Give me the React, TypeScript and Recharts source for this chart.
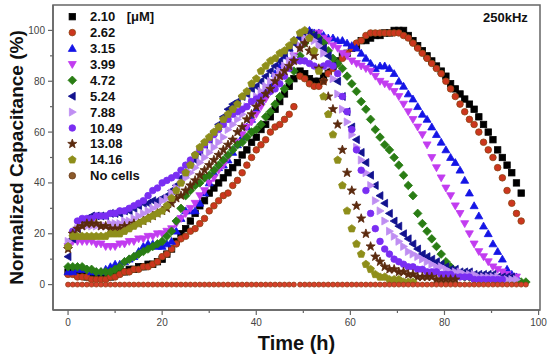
import React from 'react';
import {
  ScatterChart,
  Scatter,
  XAxis,
  YAxis,
  Legend,
  ReferenceArea,
} from 'recharts';

// time points (h): two recording runs
const TIME = [
  0, 1, 2, 3, 4, 5, 6, 7, 8, 9, 10, 11, 12, 13, 14, 15, 16, 17, 18, 19, 20,
  21, 22, 23, 24, 25, 26, 27, 28, 29, 30, 31, 32, 33, 34, 35, 36, 37, 38, 39,
  40, 41, 42, 43, 44, 45, 46, 47, 48,
  49.3, 50.3, 51.3, 52.3, 53.3, 54.3, 55.3, 56.3, 57.3, 58.3, 59.3, 60.3,
  61.3, 62.3, 63.3, 64.3, 65.3, 66.3, 67.3, 68.3, 69.3, 70.3, 71.3, 72.3,
  73.3, 74.3, 75.3, 76.3, 77.3, 78.3, 79.3, 80.3, 81.3, 82.3, 83.3, 84.3,
  85.3, 86.3, 87.3, 88.3, 89.3, 90.3, 91.3, 92.3, 93.3, 94.3, 95.3, 96.3,
  97.3,
];

// normalized capacitance (%) per concentration
const C_210 = [
  5, 5, 4, 4, 3, 3, 3, 3, 3, 3, 4, 5, 5, 6, 6, 7, 7, 8, 8, 9, 10, 12, 14, 17,
  20, 22, 25, 28, 31, 33, 36, 38, 40, 42, 44, 46, 48, 51, 53, 56, 58, 61, 63,
  66, 69, 72, 75, 78, 81,
  84, 83, 81, 80, 80, 82, 84, 86, 88, 90, 91, 93, 94, 96, 96, 97, 98, 98, 99,
  99, 100, 100, 100, 98, 96, 94, 92, 90, 88, 86, 84, 82, 79, 77, 75, 73, 71,
  69, 66, 63, 60, 57, 53, 50, 47, 44, 40, 36,
];
const C_262 = [
  4, 4, 3, 3, 3, 2, 2, 2, 2, 3, 3, 4, 5, 5, 6, 6, 7, 7, 8, 9, 11, 12, 14, 16,
  18, 19, 21, 22, 24, 26, 29, 31, 33, 35, 36, 39, 41, 44, 47, 50, 53, 55, 57,
  60, 62, 63, 65, 67, 70,
  82, 81, 79, 78, 78, 80, 83, 85, 87, 89, 91, 93, 95, 96, 98, 99, 99, 99, 99,
  99, 99, 99, 98, 97, 95, 93, 91, 89, 87, 85, 83, 80, 77, 74, 71, 68, 65, 63,
  60, 56, 53, 50, 46, 42, 37, 32, 28, 25,
];
const C_315 = [
  5, 5, 6, 6, 6, 5, 5, 5, 6, 7, 8, 8, 9, 10, 11, 13, 15, 16, 16, 15, 15, 16,
  17, 21, 26, 29, 29, 29, 32, 36, 40, 44, 46, 47, 49, 52, 55, 58, 62, 65, 69,
  72, 76, 79, 83, 86, 90, 93, 96,
  98, 99, 100, 99, 99, 98, 97, 97, 96, 96, 95, 94, 93, 91, 89, 87, 85, 86,
  86, 85, 83, 80, 78, 75, 73, 70, 67, 65, 62, 59, 56, 53, 50, 48, 45, 41, 36,
  31, 27, 23, 20, 16, 13, 10, 6, 4, 3,
];
const C_399 = [
  15, 17, 17, 17, 17, 17, 16, 16, 15, 15, 15, 16, 16, 17, 17, 18, 18, 19, 19,
  20, 20, 21, 22, 24, 26, 28, 30, 32, 35, 37, 40, 42, 45, 47, 50, 53, 56, 59,
  62, 64, 67, 70, 73, 76, 79, 82, 85, 88, 90,
  93, 95, 97, 98, 99, 97, 96, 94, 93, 91, 90, 88, 87, 86, 85, 84, 82, 80, 79,
  78, 76, 74, 71, 68, 65, 62, 59, 55, 50, 46, 42, 38, 35, 31, 28, 24, 20, 16,
  13, 11, 9, 7, 6, 5, 4, 3, 3,
];
const C_472 = [
  7, 7, 7, 7, 6, 6, 5, 5, 5, 5, 6, 7, 9, 10, 11, 12, 13, 14, 15, 16, 17, 19,
  21, 25, 30, 35, 37, 39, 40, 42, 43, 45, 47, 49, 51, 53, 55, 56, 58, 60, 61,
  63, 66, 68, 71, 74, 77, 80, 84,
  90, 95, 98, 98, 97, 95, 92, 89, 87, 85, 82, 79, 76, 72, 69, 65, 61, 58, 55,
  53, 50, 47, 43, 39, 35, 28, 24, 21, 18, 15, 12, 9, 7, 5, 4, 3, 3, 2, 2, 2,
  2, 2, 1, 1, 1, 1, 1, 1, 1,
];
const C_524 = [
  11, 18, 22, 25, 26, 27, 27, 27, 27, 28, 28, 28, 29, 29, 30, 31, 32, 32, 33,
  33, 34, 35, 37, 39, 42, 44, 47, 49, 52, 55, 57, 60, 63, 66, 69, 71, 72, 74,
  75, 77, 78, 80, 82, 84, 86, 88, 90, 93, 95,
  97, 99, 99, 98, 96, 93, 90, 86, 80, 74, 68, 62, 57, 52, 48, 43, 39, 35, 32,
  28, 25, 23, 20, 18, 16, 14, 12, 11, 10, 9, 8, 7, 6, 6, 5, 5, 5, 4, 4, 4, 4,
  4, 3, 3, 3, 3,
];
const C_788 = [
  17, 20, 22, 23, 23, 23, 23, 23, 23, 24, 24, 24, 25, 25, 26, 27, 28, 29, 30,
  31, 33, 34, 36, 38, 40, 42, 44, 46, 48, 50, 52, 54, 56, 58, 61, 63, 65, 67,
  70, 72, 74, 76, 78, 80, 82, 84, 86, 88, 90,
  94, 97, 97, 96, 94, 91, 86, 81, 75, 69, 64, 59, 54, 49, 44, 39, 33, 29, 25,
  21, 19, 17, 15, 13, 12, 11, 10, 9, 8, 7, 7, 6, 5, 5, 5, 4, 4, 4, 3, 3, 3, 3,
  3, 2, 2, 2, 2,
];
const C_1049 = [
  15, 21, 25, 26, 26, 26, 27, 27, 27, 28, 28, 29, 29, 30, 31, 32, 33, 35, 37,
  38, 40, 41, 42, 43, 45, 47, 49, 51, 53, 55, 57, 59, 61, 63, 65, 67, 68, 69,
  70, 72, 73, 74, 75, 76, 77, 79, 82, 85, 88,
  88, 88, 87, 86, 85, 86, 87, 86, 83, 74, 68, 61, 53, 45, 37, 28, 22, 17, 14,
  12, 10, 9, 8, 7, 7, 6, 6, 5, 5, 5, 4, 4, 4, 3, 3, 3, 3, 2, 2, 2, 2, 2, 2, 2,
];
const C_1308 = [
  14, 20, 22, 23, 24, 24, 24, 23, 23, 22, 22, 22, 23, 23, 24, 24, 25, 26, 27,
  28, 29, 30, 32, 34, 35, 37, 39, 41, 43, 45, 47, 49, 51, 53, 55, 57, 60, 62,
  65, 67, 70, 72, 75, 77, 80, 82, 84, 86, 88,
  93, 95, 92, 90, 85, 80, 74, 69, 63, 53, 44, 37, 31, 26, 20, 15, 11, 9, 7, 6,
  6, 5, 5, 4, 4, 3, 3, 3, 3, 2, 2, 2, 2, 2,
];
const C_1416 = [
  15, 19, 19, 19, 19, 19, 19, 19, 19, 20, 20, 20, 21, 22, 23, 24, 25, 26, 27,
  28, 29, 31, 34, 37, 40, 44, 47, 51, 54, 56, 58, 60, 62, 65, 67, 69, 71, 74,
  76, 79, 81, 84, 86, 88, 89, 91, 92, 94, 96,
  99, 100, 97, 92, 84, 74, 67, 59, 49, 39, 29, 22, 16, 12, 8, 6, 4, 3, 3, 2, 2,
  2, 1, 1, 1,
];
const NO_CELLS = [
  0, 0, 0, 0, 0, 0, 0, 0, 0, 0, 0, 0, 0, 0, 0, 0, 0, 0, 0, 0, 0, 0, 0, 0, 0,
  0, 0, 0, 0, 0, 0, 0, 0, 0, 0, 0, 0, 0, 0, 0, 0, 0, 0, 0, 0, 0, 0, 0, 0,
  0, 0, 0, 0, 0, 0, 0, 0, 0, 0, 0, 0, 0, 0, 0, 0, 0, 0, 0, 0, 0, 0, 0, 0, 0,
  0, 0, 0, 0, 0, 0, 0, 0, 0, 0, 0, 0, 0, 0, 0, 0, 0, 0, 0, 0, 0, 0, 0, 0,
];

const SERIES_NAMES = [
  '2.10', '2.62', '3.15', '3.99', '4.72', '5.24', '7.88', '10.49', '13.08',
  '14.16', 'No cells',
];
const SERIES_VALUES = [
  C_210, C_262, C_315, C_399, C_472, C_524, C_788, C_1049, C_1308, C_1416,
  NO_CELLS,
];

const X_TICKS = [0, 10, 20, 30, 40, 50, 60, 70, 80, 90, 100];
const Y_TICKS = [0, 10, 20, 30, 40, 50, 60, 70, 80, 90, 100];

const STYLES: { [key: string]: { shape: string; fill: string; stroke: string } } = {
  '2.10': { shape: 'square', fill: '#000000', stroke: '#000000' },
  '2.62': { shape: 'circle', fill: '#cc361e', stroke: '#8b4513' },
  '3.15': { shape: 'up', fill: '#1414e6', stroke: '#1414e6' },
  '3.99': { shape: 'down', fill: '#c23cf0', stroke: '#c23cf0' },
  '4.72': { shape: 'diamond', fill: '#2a7d14', stroke: '#2a7d14' },
  '5.24': { shape: 'left', fill: '#12128e', stroke: '#12128e' },
  '7.88': { shape: 'right', fill: '#bf8ef2', stroke: '#bf8ef2' },
  '10.49': { shape: 'circle', fill: '#7a2ef2', stroke: '#7a2ef2' },
  '13.08': { shape: 'star', fill: '#5a2a0e', stroke: '#5a2a0e' },
  '14.16': { shape: 'pentagon', fill: '#8e8e1a', stroke: '#8e8e1a' },
  'No cells': { shape: 'small', fill: '#d8402a', stroke: '#94401c' },
};

const FONT = 'Arial, "Liberation Sans", Helvetica, sans-serif';
const AXIS = '#666';

const ngon = (cx: number, cy: number, r: number, n: number, rot: number) =>
  Array.from({ length: n }, (_, i) => {
    const a = rot + (i * 2 * Math.PI) / n;
    return `${cx + r * Math.cos(a)},${cy + r * Math.sin(a)}`;
  }).join(' ');

const starPoints = (cx: number, cy: number, ro: number, ri: number) =>
  Array.from({ length: 10 }, (_, i) => {
    const a = -Math.PI / 2 + (i * Math.PI) / 5;
    const r = i % 2 === 0 ? ro : ri;
    return `${cx + r * Math.cos(a)},${cy + r * Math.sin(a)}`;
  }).join(' ');

function Marker({ name, cx, cy, legend }: any) {
  if (cx == null || cy == null) return null;
  const s = STYLES[name];
  const common = { fill: s.fill, stroke: s.stroke, strokeWidth: 0.8 };
  switch (s.shape) {
    case 'square':
      return <rect x={cx - 3.2} y={cy - 3.2} width={6.4} height={6.4} {...common} />;
    case 'circle':
      return <circle cx={cx} cy={cy} r={3.3} {...common} />;
    case 'small':
      // legend shows the bigger brown bead
      return legend ? (
        <circle cx={cx} cy={cy} r={3.3} fill="#8b5a2b" stroke="#6b3a16" strokeWidth={0.8} />
      ) : (
        <circle cx={cx} cy={cy} r={2.5} {...common} />
      );
    case 'up':
      return <polygon points={ngon(cx, cy + 0.6, 4.6, 3, -Math.PI / 2)} {...common} />;
    case 'down':
      return <polygon points={ngon(cx, cy - 0.6, 4.6, 3, Math.PI / 2)} {...common} />;
    case 'left':
      return <polygon points={ngon(cx + 0.6, cy, 4.6, 3, Math.PI)} {...common} />;
    case 'right':
      return <polygon points={ngon(cx - 0.6, cy, 4.6, 3, 0)} {...common} />;
    case 'diamond':
      return <polygon points={ngon(cx, cy, 4.3, 4, -Math.PI / 2)} {...common} />;
    case 'pentagon':
      return <polygon points={ngon(cx, cy, 4, 5, -Math.PI / 2)} {...common} />;
    case 'star':
      return <polygon points={starPoints(cx, cy, 4.8, 2)} {...common} />;
    default:
      return null;
  }
}

const XTick = ({ x, y, payload }: any) => {
  const major = payload.value % 20 === 0;
  return (
    <g>
      <line x1={x} x2={x} y1={y} y2={y + (major ? 5 : 3)} stroke={AXIS} strokeWidth={1.2} />
      {major && (
        <text x={x} y={y + 12.7} textAnchor="middle" dominantBaseline="central"
          fontSize={10} fontFamily={FONT} fill="#444">
          {payload.value}
        </text>
      )}
    </g>
  );
};

const YTick = ({ x, y, payload }: any) => {
  const major = payload.value % 20 === 0;
  return (
    <g>
      <line x1={x} x2={x - (major ? 5 : 3)} y1={y} y2={y} stroke={AXIS} strokeWidth={1.2} />
      {major && (
        <text x={x - 8} y={y} textAnchor="end" dominantBaseline="central"
          fontSize={10} fontFamily={FONT} fill="#444">
          {payload.value}
        </text>
      )}
    </g>
  );
};

const renderLegend = () => (
  <svg width={130} height={180}>
    {SERIES_NAMES.map((name, i) => {
      const cy = 8.7 + i * 15.9;
      return (
        <g key={name}>
          <Marker name={name} cx={10.3} cy={cy} legend />
          <text x={28} y={cy} dominantBaseline="central" fontSize={13}
            fontWeight="bold" fontFamily={FONT} fill="#111">
            {name}
          </text>
          {i === 0 && (
            <text x={64.7} y={cy} dominantBaseline="central" fontSize={13}
              fontWeight="bold" fontFamily={FONT} fill="#111">
              [μM]
            </text>
          )}
        </g>
      );
    })}
  </svg>
);

export default function App() {
  const seriesData = SERIES_NAMES.map((name, s) => ({
    name,
    data: TIME.map((t, i) => ({ t, v: SERIES_VALUES[s][i] })).filter(
      (d) => d.v != null
    ),
  }));

  return (
    <div style={{ position: 'absolute', left: 0, top: 0, width: 550, height: 359, background: '#fff' }}>
      <ScatterChart width={550} height={359} margin={{ top: 5, right: 10, bottom: 0, left: 8 }}>
        <XAxis
          dataKey="t"
          type="number"
          domain={[-3.2, 100.3]}
          ticks={X_TICKS}
          interval={0}
          allowDataOverflow
          tickSize={0}
          tickMargin={0}
          tickLine={false}
          tick={<XTick />}
          axisLine={{ stroke: AXIS, strokeWidth: 1.5 }}
          height={49}
          label={{
            content: (props: any) => {
              const vb = props.viewBox || { x: 53, y: 310, width: 487 };
              return (
                <text x={vb.x + vb.width / 2} y={vb.y + 33} textAnchor="middle"
                  dominantBaseline="central" fontSize={20} fontWeight="bold"
                  fontFamily={FONT} fill="#111">
                  Time (h)
                </text>
              );
            },
          }}
        />
        <YAxis
          dataKey="v"
          type="number"
          domain={[-10, 110]}
          ticks={Y_TICKS}
          interval={0}
          allowDataOverflow
          tickSize={0}
          tickMargin={0}
          tickLine={false}
          tick={<YTick />}
          axisLine={{ stroke: AXIS, strokeWidth: 1.5 }}
          width={45}
          label={{
            content: (props: any) => {
              const vb = props.viewBox || { x: 8, y: 5, height: 305 };
              const cx = vb.x + 8;
              const cy = vb.y + vb.height / 2;
              return (
                <text x={cx} y={cy} transform={`rotate(-90 ${cx} ${cy})`}
                  textAnchor="middle" dominantBaseline="central" fontSize={19}
                  fontWeight="bold" fontFamily={FONT} fill="#111">
                  Normalized Capacitance (%)
                </text>
              );
            },
          }}
        />
        <ReferenceArea
          x1={-3.2}
          x2={100.3}
          y1={-10}
          y2={110}
          fill="none"
          stroke={AXIS}
          strokeWidth={1.5}
          ifOverflow="visible"
        />
        {seriesData.map((s) => (
          <Scatter
            key={s.name}
            name={s.name}
            data={s.data}
            isAnimationActive={false}
            shape={(p: any) => <Marker name={s.name} cx={p.cx} cy={p.cy} />}
          />
        ))}
        <Legend
          layout="vertical"
          align="center"
          verticalAlign="middle"
          content={renderLegend}
          wrapperStyle={{ left: 62, top: 8, width: 130, height: 180 }}
        />
      </ScatterChart>
      <div
        style={{
          position: 'absolute',
          left: 483,
          top: 10,
          fontFamily: FONT,
          fontWeight: 'bold',
          fontSize: 13,
          lineHeight: '15px',
          color: '#111',
        }}
      >
        250kHz
      </div>
    </div>
  );
}
